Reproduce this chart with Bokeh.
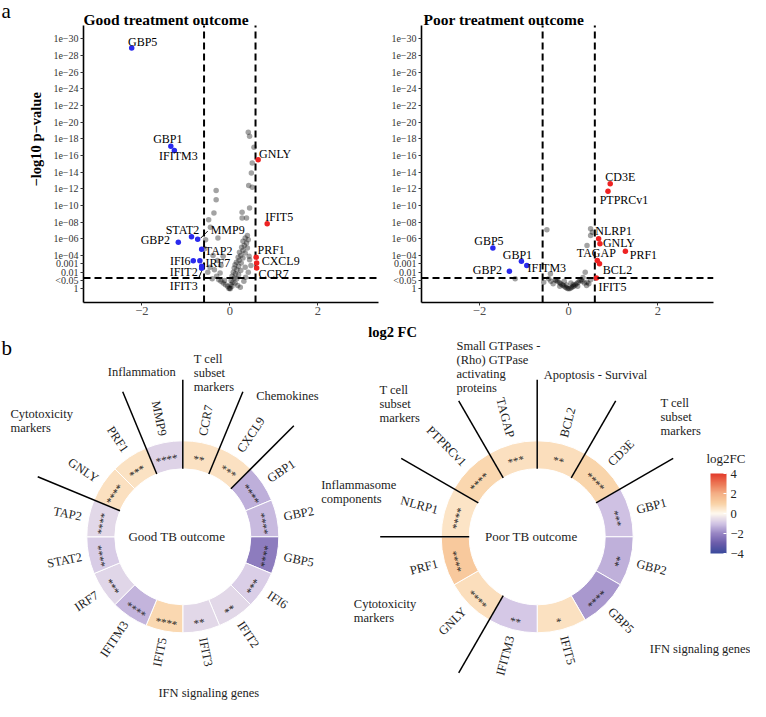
import math
from bokeh.plotting import figure
from bokeh.models import Range1d, FixedTicker, ColorBar, LinearColorMapper, Span
from bokeh.layouts import column, row
from bokeh.embed import file_html
from bokeh.resources import INLINE
from bokeh.core.properties import value

# ---------------- data: volcano, good treatment outcome ----------------
good_genes = ["GBP5", "GBP1", "IFITM3", "GNLY", "IFIT5", "STAT2", "MMP9", "GBP2",
              "TAP2", "IFI6", "IRF7", "IFIT2", "IFIT3", "PRF1", "CXCL9", "CCR7"]
good_fc = [-2.23, -1.34, -1.26, 0.645, 0.85, -0.87, -0.73, -1.17,
           -0.64, -0.83, -0.68, -0.64, -0.64, 0.60, 0.61, 0.61]
good_lp = [28.9, 17.1, 16.6, 15.5, 7.8, 6.24, 5.96, 5.6,
           4.75, 3.36, 3.36, 2.7, 2.47, 3.8, 3.1, 2.5]
good_bg_fc = [0.42, 0.45, 0.55, 0.51, 0.49, 0.43, 0.51, -0.31, -0.31, -0.36, -0.48, 0.28, 0.45,
              0.28, 0.38, -0.44, -0.55, -0.27, -0.57,
              0.40, 0.35, 0.42, 0.30, 0.38, 0.33, 0.27, 0.40, 0.30, 0.22, 0.35, 0.25, 0.19, 0.30,
              0.44, 0.21, 0.15, 0.26, 0.12, 0.20, 0.35, 0.10, 0.16, 0.25, 0.08, 0.13, 0.20, 0.05,
              0.10, 0.16, 0.03, 0.07, 0.12, 0.02, 0.05, 0.00, 0.01, -0.02, -0.05, -0.10, -0.15,
              -0.20, -0.25, -0.12, -0.30, -0.22, -0.35, -0.45, -0.20, -0.28, -0.38, -0.15, -0.50,
              -0.40, 0.45, 0.48, 0.42, 0.36, 0.32, 0.18, 0.24]
good_bg_lp = [18.8, 18.3, 17.0, 15.1, 13.9, 12.4, 12.2, 11.8, 10.7, 9.1, 8.3, 9.2, 9.7,
              8.5, 8.5, 7.4, 5.9, 6.1, 4.8,
              6.4, 6.1, 5.9, 5.7, 5.5, 5.2, 5.0, 4.9, 4.6, 4.4, 4.3, 4.0, 3.8, 3.7,
              3.9, 3.4, 3.2, 3.1, 2.9, 2.7, 2.6, 2.5, 2.3, 2.2, 2.0, 1.8, 1.7, 1.5,
              1.3, 1.2, 1.0, 0.8, 0.7, 0.5, 0.3, 0.1, 0.0, 0.05, 0.3, 0.5, 0.7,
              0.9, 1.1, 1.0, 1.5, 1.9, 2.3, 2.6, 2.8, 3.4, 4.0, 3.9, 2.0,
              1.2, 3.5, 2.8, 2.0, 1.4, 0.9, 0.4, 0.2]

# ---------------- data: volcano, poor treatment outcome ----------------
poor_genes = ["CD3E", "PTPRCv1", "NLRP1", "GNLY", "PRF1", "TAGAP", "BCL2", "IFIT5",
              "GBP5", "GBP1", "IFITM3", "GBP2"]
poor_fc = [0.93, 0.88, 0.67, 0.70, 1.27, 0.64, 0.69, 0.62, -1.70, -1.06, -0.94, -1.33]
poor_lp = [12.6, 11.7, 6.0, 5.4, 4.5, 3.4, 3.0, 1.3, 4.9, 3.3, 2.8, 2.1]
poor_bg_fc = [-0.49, 0.49, 0.53, 0.49, 0.41, -1.20, -0.41, -0.56, 0.37, 0.41, 0.49,
              0.00, 0.03, -0.03, 0.06, -0.06, 0.09, -0.09, 0.12, -0.12, 0.15, -0.15, 0.18,
              -0.18, 0.21, -0.21, 0.25, -0.25, 0.28, -0.28, 0.30, -0.30, 0.10, -0.05, 0.20,
              -0.20, 0.35, -0.35, 0.40, -0.40, 0.32, -0.10, 0.05, 0.45, -0.45]
poor_bg_lp = [7.1, 7.2, 6.8, 6.4, 5.2, 1.2, 1.8, 0.8, 2.0, 0.8, 1.1,
              0.0, 0.05, 0.05, 0.15, 0.15, 0.25, 0.25, 0.35, 0.4, 0.5, 0.5, 0.65,
              0.6, 0.8, 0.75, 1.0, 0.9, 1.1, 1.0, 0.9, 1.1, 0.5, 0.45, 0.3,
              0.3, 0.7, 0.6, 0.4, 0.9, 1.35, 0.9, 0.7, 0.6, 1.2]

# y tick labels (-log10 p scale)
y_ticks = [0, 1, 2, 3, 4, 6, 8, 10, 12, 14, 16, 18, 20, 22, 24, 26, 28, 30]
y_tick_labels = ["1", "<0.05", "0.01", "0.001", "1e\u221204", "1e\u221206", "1e\u221208",
                 "1e\u221210", "1e\u221212", "1e\u221214", "1e\u221216", "1e\u221218",
                 "1e\u221220", "1e\u221222", "1e\u221224", "1e\u221226", "1e\u221228", "1e\u221230"]
x_ticks = [-2, 0, 2]
x_tick_labels = ["\u22122", "0", "2"]
fc_cut = 0.585
p_cut = 1.3

# ---------------- data: circular plots ----------------
ring_good_genes = ["CCR7", "CXCL9", "GBP1", "GBP2", "GBP5", "IFI6", "IFIT2", "IFIT3",
                   "IFIT5", "IFITM3", "IRF7", "STAT2", "TAP2", "GNLY", "PRF1", "MMP9"]
ring_good_fc = [0.61, 0.61, -1.34, -1.17, -2.23, -0.83, -0.64, -0.64,
                0.85, -1.26, -0.68, -0.87, -0.64, 0.645, 0.60, -0.73]
ring_good_sig = ["**", "***", "****", "****", "****", "***", "**", "**",
                 "****", "****", "***", "****", "****", "****", "***", "****"]
ring_good_sep = [0, 1, 2, 13, 15]
ring_good_cats = ["Cytotoxicity\nmarkers", "Inflammation", "T cell\nsubset\nmarkers",
                  "Chemokines", "Inflammasome\ncomponents"]

ring_poor_genes = ["BCL2", "CD3E", "GBP1", "GBP2", "GBP5", "IFIT5", "IFITM3", "GNLY",
                   "PRF1", "NLRP1", "PTPRCv1", "TAGAP"]
ring_poor_fc = [0.69, 0.93, -1.06, -1.33, -1.70, 0.62, -0.94, 0.70, 1.27, 0.55, 0.88, 0.64]
ring_poor_sig = ["**", "****", "***", "**", "****", "*", "**", "****", "****", "****", "****", "***"]
ring_poor_sep = [0, 1, 2, 7, 9, 10, 11]
ring_poor_cats = ["Small GTPases -\n(Rho) GTPase\nactivating\nproteins", "Apoptosis - Survival",
                  "T cell\nsubset\nmarkers", "T cell\nsubset\nmarkers", "Cytotoxicity\nmarkers"]
ifn_label = "IFN signaling genes"

scale_stops = [-4, -3, -2, -1, 0, 1, 2, 3, 4]
scale_cols = ["#3A4A9C", "#6A5CAA", "#9885C4", "#D2C5E5", "#FFF9EE",
              "#F9D2A6", "#F4AF86", "#EC7654", "#E33B2B"]
cb_ticks = [-4, -2, 0, 2, 4]
cb_labels = ["\u22124", "\u22122", "0", "2", "4"]

# ---------------- styling ----------------
FONT = "Liberation Serif"
BLUE = "#2A2AEE"
RED = "#EE2222"


def lerp(c1, c2, t):
    a = [int(c1[i:i + 2], 16) for i in (1, 3, 5)]
    b = [int(c2[i:i + 2], 16) for i in (1, 3, 5)]
    return "#%02x%02x%02x" % tuple(int(round(a[k] + (b[k] - a[k]) * t)) for k in range(3))


def fc_color(v):
    v = max(scale_stops[0], min(scale_stops[-1], v))
    for k in range(len(scale_stops) - 1):
        if v <= scale_stops[k + 1]:
            t = (v - scale_stops[k]) / (scale_stops[k + 1] - scale_stops[k])
            return lerp(scale_cols[k], scale_cols[k + 1], t)
    return scale_cols[-1]


palette = [fc_color(-4 + 8 * i / 255) for i in range(256)]

TOP_H = 322
FRAME_TOP, FRAME_BOT = 25, 302          # axis area inside each top canvas
YR = (-1.645, 31.6)
PXY = (FRAME_BOT - FRAME_TOP) / (YR[1] - YR[0])
Y_TOP = YR[1] + FRAME_TOP / PXY          # frame extends up to the canvas top (titles live there)
LEFT_W = 50


def volcano(bg_fc, bg_lp, genes, fc, lp, dx, dy, xr, width, left, right, title, title_dx, leaders):
    p = figure(width=width, height=TOP_H, x_range=Range1d(*xr), y_range=Range1d(YR[0], Y_TOP),
               output_backend="svg", toolbar_location=None, title=None,
               min_border_left=left, min_border_right=right, min_border_top=0,
               min_border_bottom=TOP_H - FRAME_BOT)
    p.xgrid.visible = False
    p.ygrid.visible = False
    p.outline_line_color = None
    for ax in (p.xaxis[0], p.yaxis[0]):
        ax.axis_line_width = 1.6
        ax.axis_line_color = "black"
        ax.major_tick_line_color = "#333333"
        ax.major_tick_in = 0
        ax.major_tick_out = 3
        ax.minor_tick_line_color = None
        ax.major_label_text_font = FONT
    p.yaxis.bounds = YR
    p.xaxis.ticker = FixedTicker(ticks=x_ticks)
    p.xaxis.major_label_overrides = dict(zip(x_ticks, x_tick_labels))
    p.xaxis.major_label_text_font_size = "12.5px"
    p.xaxis.major_label_text_color = "#4D4D4D"
    p.xaxis.major_label_standoff = 1
    p.yaxis.ticker = FixedTicker(ticks=y_ticks)
    p.yaxis.major_label_overrides = dict(zip(y_ticks, y_tick_labels))
    p.yaxis.major_label_text_font_size = "10px"
    p.yaxis.major_label_text_color = "#333333"
    p.yaxis.major_label_standoff = 2

    dash = dict(line_color="black", line_width=2, line_dash="7 4")
    p.segment(x0=[-fc_cut, fc_cut], y0=[YR[0], YR[0]], x1=[-fc_cut, fc_cut], y1=[YR[1], YR[1]], **dash)
    p.add_layout(Span(location=p_cut, dimension="width", **dash))

    p.scatter(bg_fc, bg_lp, size=5.5, color="black", alpha=0.36, line_color=None)
    cols = [BLUE if v < 0 else RED for v in fc]
    p.scatter(fc, lp, size=5.5, color=cols, line_color=None)

    fw = width - left - right
    pxx = fw / (xr[1] - xr[0])
    for g, (a0, b0, a1, b1) in leaders.items():
        i = genes.index(g)
        p.segment(x0=[fc[i] + a0 / pxx], y0=[lp[i] - b0 / PXY], x1=[fc[i] + a1 / pxx],
                  y1=[lp[i] - b1 / PXY], line_color="black", line_width=1)
    p.text(x=fc, y=lp, text=genes, x_offset=dx, y_offset=dy, text_align="center",
           text_baseline="middle", text_font=value(FONT), text_font_size="12px",
           text_color="black")
    p.text(x=[xr[0] + title_dx / pxx], y=[Y_TOP - 19.3 / PXY], text=[title], text_align="left",
           text_baseline="alphabetic", text_font=value(FONT), text_font_style="bold",
           text_font_size="15.5px", text_color="black")
    return p


good_dx = [11, -3, 4, 17, 12, -9, 30, -23, 17, -13, 18, -18, -18, 15, 24, 17]
good_dy = [-6, -7, 6, -6, -7, -7, -9, -2, 2, 0, 2, 6, 18, -7, -2, 6]
poor_dx = [10, 16, 15, 19, 18, -1, 18, 16, -4, -4, 20, -22]
poor_dy = [-7, 9, -8, -1, 4, -7, 6, 9, -7, -6, 3, -1]

# left strip: panel letter and y axis title
p0 = figure(width=LEFT_W, height=TOP_H, x_range=Range1d(0, LEFT_W), y_range=Range1d(0, TOP_H),
            output_backend="svg", toolbar_location=None, title=None, min_border=0,
            x_axis_type=None, y_axis_type=None)
p0.xgrid.visible = False
p0.ygrid.visible = False
p0.outline_line_color = None
p0.text(x=[1], y=[TOP_H - 11], text=["a"], text_align="left", text_baseline="alphabetic",
        text_font=value(FONT), text_font_size="21px", text_color="black")
p0.text(x=[35], y=[TOP_H - 148], text=["\u2212log10 p\u2212value"], angle=math.pi / 2,
        text_align="center", text_baseline="middle", text_font=value(FONT),
        text_font_style="bold", text_font_size="14.5px", text_color="black")

pa = volcano(good_bg_fc, good_bg_lp, good_genes, good_fc, good_lp, good_dx, good_dy,
             (-3.325, 3.38), 380 - LEFT_W, 83 - LEFT_W, 2, "Good treatment outcome", 0,
             {"MMP9": (3, -1, 10, -8), "IFIT3": (0, 3, -3, 10)})
pb = volcano(poor_bg_fc, poor_bg_lp, poor_genes, poor_fc, poor_lp, poor_dx, poor_dy,
             (-3.30, 3.245), 370, 41, 37, "Poor treatment outcome", 2, {})

# ---------------- circular plots ----------------
HC = 701 - TOP_H
SHIFT = 16


def cy(ref_y):
    return HC - (ref_y - SHIFT - TOP_H)


pc = figure(width=750, height=HC, x_range=Range1d(0, 750), y_range=Range1d(0, HC),
            output_backend="svg", toolbar_location=None, title=None,
            min_border=0, x_axis_type=None, y_axis_type=None)
pc.xgrid.visible = False
pc.ygrid.visible = False
pc.outline_line_color = None

R_IN, R_OUT, R_LAB, R_STAR, R_LINE = 68, 96, 103, 82, 157
TXT = dict(text_font=value(FONT), text_color="#222222")


def ring(cx, cyy, genes, fc, sig, seps, center_text):
    n = len(genes)
    d = 2 * math.pi / n
    start = [math.pi / 2 - (i + 1) * d for i in range(n)]
    end = [math.pi / 2 - i * d for i in range(n)]
    pc.annular_wedge(x=cx, y=cyy, inner_radius=R_IN, outer_radius=R_OUT,
                     start_angle=start, end_angle=end,
                     fill_color=[fc_color(v) for v in fc], line_color="white", line_width=1)
    mids = [(i + 0.5) * d for i in range(n)]
    lx, ly, la, al = [], [], [], []
    for th in mids:
        a = 90 - math.degrees(th)
        lx.append(cx + R_LAB * math.sin(th))
        ly.append(cyy + R_LAB * math.cos(th))
        if a < -90:
            la.append(math.radians(a + 180))
            al.append("right")
        else:
            la.append(math.radians(a))
            al.append("left")
    pc.text(x=lx, y=ly, text=genes, angle=la, text_align=al, text_baseline="middle",
            text_font_size="12.5px", **TXT)
    sx = [cx + R_STAR * math.sin(th) for th in mids]
    sy = [cyy + R_STAR * math.cos(th) for th in mids]
    pc.text(x=sx, y=sy, text=sig, angle=[-th for th in mids], text_align="center",
            text_baseline="middle", text_font_size="11px", y_offset=3, **TXT)
    pc.segment(x0=[cx + R_IN * math.sin(k * d) for k in seps],
               y0=[cyy + R_IN * math.cos(k * d) for k in seps],
               x1=[cx + R_LINE * math.sin(k * d) for k in seps],
               y1=[cyy + R_LINE * math.cos(k * d) for k in seps],
               line_color="black", line_width=1.5)
    pc.text(x=[cx - 6], y=[cyy], text=[center_text], text_align="center", text_baseline="middle",
            text_font_size="13px", **TXT)


CL = (182.3, cy(552.3))
CR = (536.7, cy(552.3))
ring(CL[0], CL[1], ring_good_genes, ring_good_fc, ring_good_sig, ring_good_sep, "Good TB outcome")
ring(CR[0], CR[1], ring_poor_genes, ring_poor_fc, ring_poor_sig, ring_poor_sep, "Poor TB outcome")

cat_x = [10, 107.3, 193.3, 255.7, 320.7]
cat_y = [cy(422), cy(380.5), cy(367.5), cy(404.5), cy(493.5)]
pc.text(x=cat_x, y=cat_y, text=ring_good_cats, text_align="left", text_baseline="top",
        text_font_size="12.5px", text_line_height=1.0, **TXT)
cat_x2 = [456, 543.3, 660, 379, 353.3]
cat_y2 = [cy(354.5), cy(383.5), cy(411), cy(398.5), cy(612.5)]
pc.text(x=cat_x2, y=cat_y2, text=ring_poor_cats, text_align="left", text_baseline="top",
        text_font_size="12.5px", text_line_height=1.0, **TXT)
pc.text(x=[208.3, 649.3], y=[cy(708), cy(664)], text=[ifn_label, ifn_label],
        text_align=["center", "left"], text_baseline="middle", text_font_size="12.5px", **TXT)

pc.text(x=[392], y=[HC - (331 - TOP_H)], text=["log2 FC"], text_align="center",
        text_baseline="middle", text_font=value(FONT), text_font_style="bold",
        text_font_size="14.5px", text_color="black")
pc.text(x=[1], y=[cy(363)], text=["b"], text_align="left", text_baseline="alphabetic",
        text_font=value(FONT), text_font_size="21px", text_color="black")

# colour legend
LEG_X = 710
pc.text(x=[LEG_X - 4], y=[cy(474)], text=["log2FC"], text_align="left", text_baseline="middle",
        text_font_size="13px", **TXT)
mapper = LinearColorMapper(palette=palette, low=cb_ticks[0], high=cb_ticks[-1])
cb = ColorBar(color_mapper=mapper, ticker=FixedTicker(ticks=cb_ticks),
              major_label_overrides=dict(zip(cb_ticks, cb_labels)),
              width=16, height=80, padding=0, margin=0, location=(LEG_X, cy(569)),
              title=None, major_label_text_font=FONT, major_label_text_font_size="12.5px",
              major_label_text_color="#222222", label_standoff=4,
              major_tick_line_color="white", major_tick_in=3, major_tick_out=0,
              bar_line_color=None, border_line_color=None, background_fill_alpha=0)
pc.add_layout(cb)

layout = column(row(p0, pa, pb), pc)
open("out.html", "w").write(file_html(layout, INLINE))
